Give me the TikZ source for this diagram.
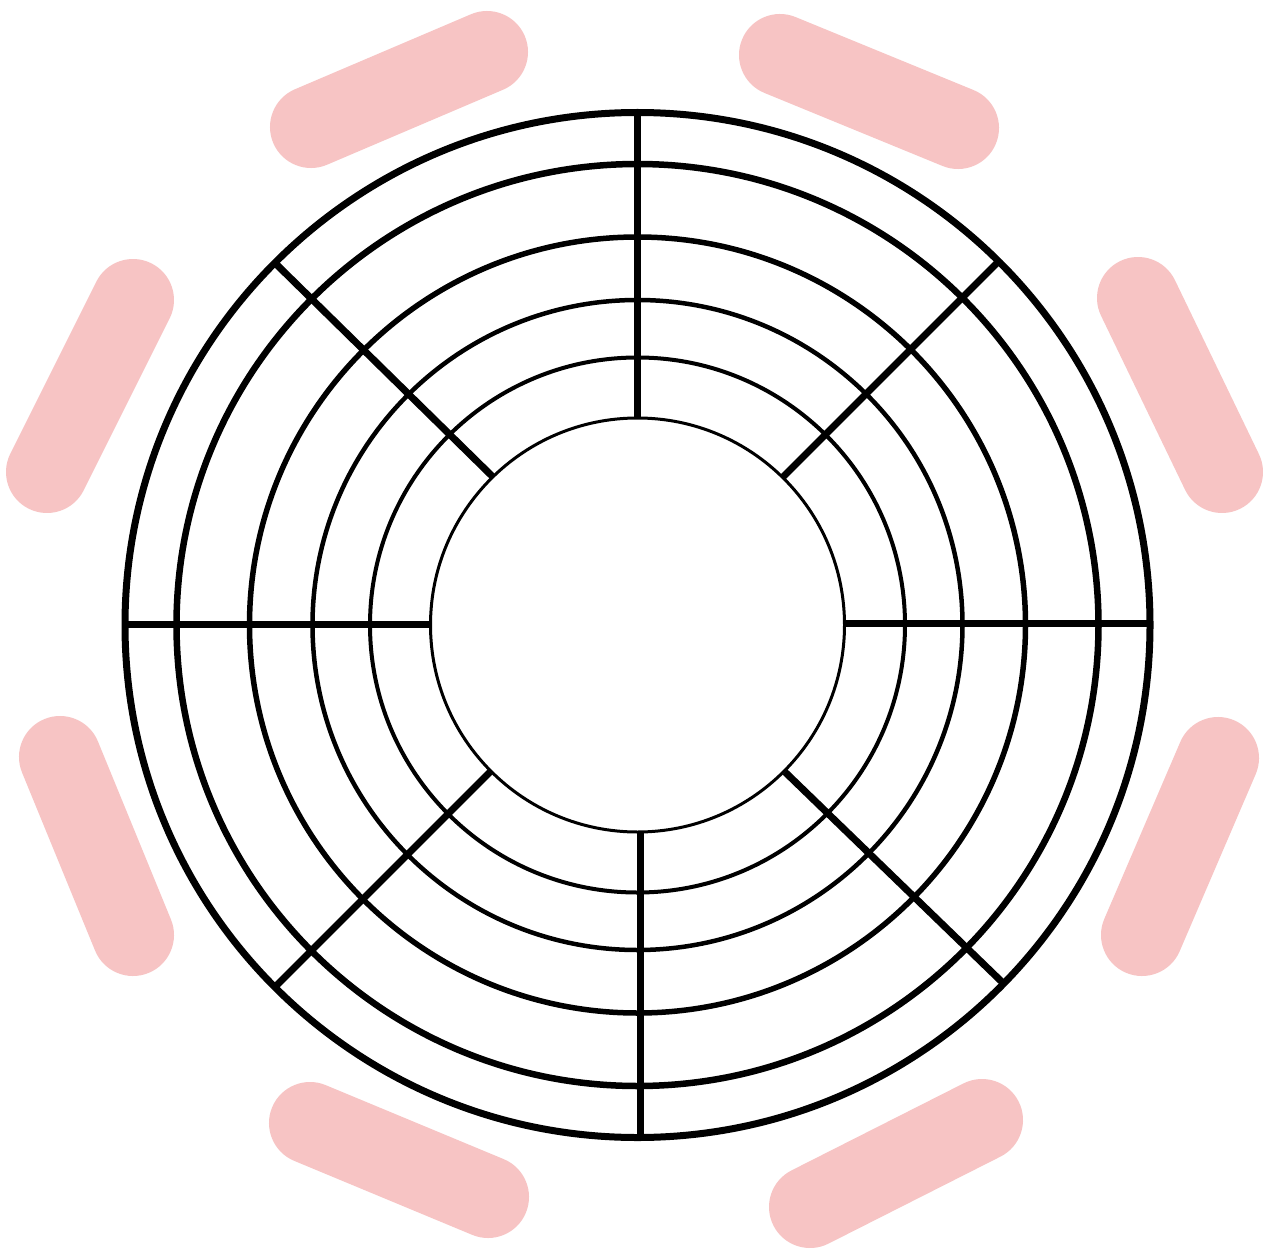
\documentclass[tikz,border=0pt]{standalone}
\definecolor{pinkcap}{RGB}{247,196,196}
\begin{document}
\begin{tikzpicture}[x=1pt,y=-1pt,
  capsule/.style={draw=pinkcap, line width=82pt, line cap=round},
  ring/.style={draw=black},
  spoke/.style={draw=black, line width=7pt}]
\useasboundingbox[fill=white] (0,0) rectangle (1271,1249);
% pink capsules
\draw[capsule] (311,127) -- (487,52);
\draw[capsule] (780,55) -- (958,128);
\draw[capsule] (133,300) -- (47,472);
\draw[capsule] (1138,298) -- (1222,472);
\draw[capsule] (60,757) -- (133,935);
\draw[capsule] (1218,758) -- (1142,935);
\draw[capsule] (310,1123) -- (488,1197);
\draw[capsule] (810,1207) -- (982,1120);
% rings
\coordinate (c) at (637.5,625);
\draw[ring, line width=7pt] (c) circle[radius=512.5];
\draw[ring, line width=6.5pt] (c) circle[radius=461];
\draw[ring, line width=5.5pt] (c) circle[radius=388];
\draw[ring, line width=4.5pt] (c) circle[radius=325];
\draw[ring, line width=4pt] (c) circle[radius=267.5];
\draw[ring, line width=3pt] (c) circle[radius=207];
% spokes
\coordinate (nO) at (637,113);  \coordinate (nI) at (637,418);
\coordinate (sO) at (640,1138); \coordinate (sI) at (640,832);
\coordinate (wO) at (125,624);  \coordinate (wI) at (430,624);
\coordinate (eO) at (1150,623); \coordinate (eI) at (844,623);
\coordinate (nwO) at (275,263); \coordinate (nwI) at (493,477);
\coordinate (neO) at (997,263); \coordinate (neI) at (783,477);
\coordinate (swO) at (277,985); \coordinate (swI) at (490,772);
\coordinate (seO) at (1002,982); \coordinate (seI) at (785,772);
\draw[spoke] (nO) -- (nI);
\draw[spoke] (sO) -- (sI);
\draw[spoke] (wO) -- (wI);
\draw[spoke] (eO) -- (eI);
\draw[spoke] (nwO) -- (nwI);
\draw[spoke] (neO) -- (neI);
\draw[spoke] (swO) -- (swI);
\draw[spoke] (seO) -- (seI);
\end{tikzpicture}
\end{document}
